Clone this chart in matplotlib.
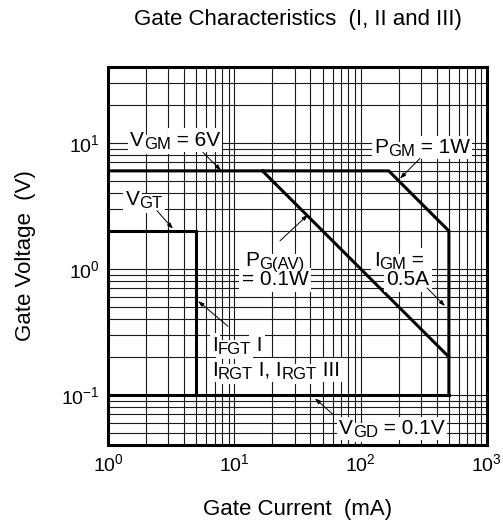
import matplotlib
matplotlib.use('Agg')
import matplotlib.pyplot as plt
from matplotlib.transforms import offset_copy

plt.rcParams['font.family'] = ['Liberation Sans', 'DejaVu Sans']
plt.rcParams['mathtext.fontset'] = 'custom'
plt.rcParams['mathtext.rm'] = 'Liberation Sans'
plt.rcParams['axes.unicode_minus'] = False

# boundary curves (gate current mA, gate voltage V)
outer_i = [1, 167, 500, 500]          # VGM -> PGM -> IGM
outer_v = [6, 6, 2, 0.1]
pgav_i = [16.7, 500]                  # PG(AV) = 0.1W
pgav_v = [6, 0.2]
vgt_i = [1, 5, 5]                     # VGT / IGT box
vgt_v = [2, 2, 0.1]
vgd_i = [1, 500]                      # VGD = 0.1V
vgd_v = [0.1, 0.1]

xlim = (1, 1000)
ylim = (0.04, 40)

fig = plt.figure(figsize=(5.03, 5.28), dpi=100)
ax = fig.add_axes([0.2147, 0.1572, 0.7533, 0.7158])
ax.set_xscale('log')
ax.set_yscale('log')
ax.set_xlim(*xlim)
ax.set_ylim(*ylim)

ax.grid(which='both', color='#1a1a1a', lw=0.8)
ax.set_axisbelow(True)
ax.tick_params(which='both', length=0, labelsize=14, pad=6)
for s in ax.spines.values():
    s.set_linewidth(2.2)

thick = dict(color='black', lw=2.2, solid_joinstyle='miter', zorder=3)
ax.plot(outer_i, outer_v, **thick)
ax.plot(pgav_i, pgav_v, **thick)
ax.plot(vgt_i, vgt_v, **thick)
ax.plot(vgd_i, vgd_v, **thick)

fs = 15
sub_scale = 0.8
renderer = fig.canvas.get_renderer()


def label(x, y, parts, ha='center'):
    # parts: list of (text, is_subscript); drawn piece by piece in pixels
    widths = []
    for s, sub in parts:
        t = ax.text(0, 0, s, fontsize=fs * (sub_scale if sub else 1))
        widths.append(t.get_window_extent(renderer).width)
        t.remove()
    total = sum(widths)
    dx = -total / 2 if ha == 'center' else 0
    base = -0.36 * fs * fig.dpi / 72
    for (s, sub), w in zip(parts, widths):
        tr = offset_copy(ax.transData, fig, x=dx, y=base - (3 if sub else 0), units='dots')
        size = fs * (sub_scale if sub else 1)
        # white patch first, then the text on top
        ax.text(x, y, s, transform=tr, ha='left', va='baseline', fontsize=size,
                color='white', zorder=4,
                bbox=dict(facecolor='white', edgecolor='none', pad=1.6))
        ax.text(x, y, s, transform=tr, ha='left', va='baseline', fontsize=size,
                color='black', zorder=4.5)
        dx += w


def leader(x0, y0, x1, y1):
    ax.annotate('', xy=(x1, y1), xytext=(x0, y0), zorder=5,
                arrowprops=dict(arrowstyle='-|>,head_length=0.35,head_width=0.12',
                                color='black', lw=0.7, shrinkA=0, shrinkB=0))


label(3.39, 10.9, [('V', 0), ('GM', 1), (' = 6V', 0)])
leader(5.65, 8.41, 7.86, 6.04)

label(1.93, 3.68, [('V', 0), ('GT', 1)])
leader(2.44, 2.9, 3.27, 2.08)

label(306, 9.55, [('P', 0), ('GM', 1), (' = 1W', 0)])
leader(295, 7.52, 205, 5.21)

label(21.0, 1.22, [('P', 0), ('G(AV)', 1)])
label(21.0, 0.848, [('= 0.1W', 0)])
leader(23.0, 1.67, 38.3, 2.69)

label(201, 1.22, [('I', 0), ('GM', 1), (' =', 0)])
label(237, 0.848, [('0.5A', 0)])
leader(336, 0.706, 466, 0.507)

label(6.66, 0.257, [('I', 0), ('FGT', 1), (' I', 0)], ha='left')
label(6.66, 0.163, [('I', 0), ('RGT', 1), (' I, I', 0), ('RGT', 1), (' III', 0)], ha='left')
leader(8.91, 0.351, 5.16, 0.556)

label(177, 0.0561, [('V', 0), ('GD', 1), (' = 0.1V', 0)])
leader(60.4, 0.070, 43.5, 0.0938)

ax.set_xlabel('Gate Current  (mA)', fontsize=16, labelpad=17)
ax.set_ylabel('Gate Voltage  (V)', fontsize=16, labelpad=18)
ax.set_title('Gate Characteristics  (I, II and III)', fontsize=16, pad=30)

fig.savefig('out.png', dpi=100, facecolor='white')
